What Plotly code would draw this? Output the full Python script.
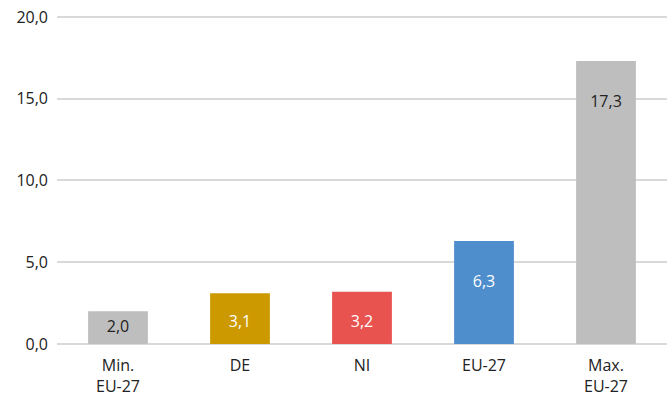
import plotly.graph_objects as go

categories = ["Min.<br>EU-27", "DE", "NI", "EU-27", "Max.<br>EU-27"]
values = [2.0, 3.1, 3.2, 6.3, 17.3]
bar_colors = ["#BEBEBE", "#CC9900", "#E8524F", "#4F8ECC", "#BEBEBE"]
label_colors = ["#222222", "white", "white", "white", "#222222"]

FONT = "Open Sans, Noto Sans, sans-serif"

# label sits a bit below the bar top, lower down for short bars
label_y = [max(v - 2.55, min(v / 2, 1.3)) for v in values]
label_text = [f"{v:.1f}".replace(".", ",") for v in values]

fig = go.Figure()
fig.add_trace(go.Bar(
    x=categories, y=values,
    marker=dict(color=bar_colors, line=dict(width=0)),
    width=0.49,
    hoverinfo="skip",
))
fig.add_trace(go.Scatter(
    x=categories, y=label_y, mode="text",
    text=label_text,
    textfont=dict(family=FONT, size=16, color=label_colors),
    hoverinfo="skip",
))

fig.update_layout(
    width=667, height=405,
    margin=dict(l=57, r=0, t=14, b=61),
    plot_bgcolor="white", paper_bgcolor="white",
    showlegend=False,
    separators=",.",
    font=dict(family=FONT, size=16, color="#222222"),
)
fig.update_xaxes(showgrid=False, showline=False, ticks="", automargin=False,
                 ticklabelstandoff=10, tickfont=dict(size=16))
fig.update_yaxes(
    range=[0, 20.18], tickvals=[0, 5, 10, 15, 20], tickformat=".1f",
    gridcolor="#D9D9D9", gridwidth=1.5,
    zeroline=True, zerolinecolor="#D9D9D9", zerolinewidth=1.5,
    ticks="", automargin=False, ticklabelstandoff=8, tickfont=dict(size=16),
)

fig.write_html("out.html", config={"displayModeBar": False},
               post_script="document.body.style.margin='0';")
